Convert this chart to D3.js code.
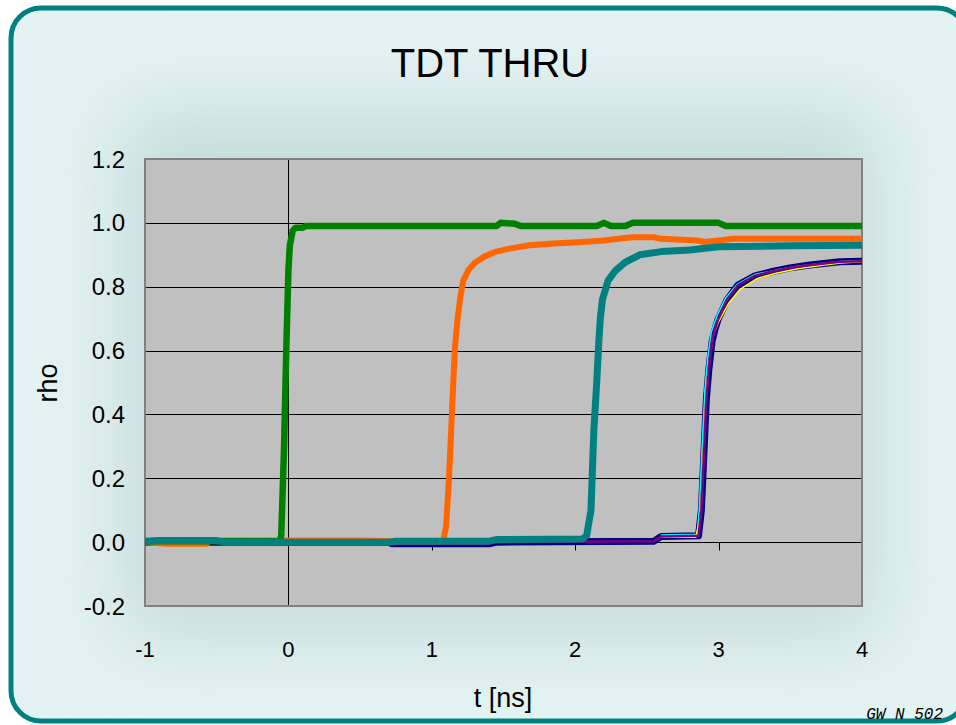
<!DOCTYPE html>
<html>
<head>
<meta charset="utf-8">
<script src="https://cdn.jsdelivr.net/npm/d3@7"></script>
<style>
  html, body { margin: 0; padding: 0; background: #fff; }
  svg { display: block; }
</style>
</head>
<body>
<svg id="chart"></svg>
<script>
// --- data: [t (ns), rho] ---
var xTicks = [-1, 0, 1, 2, 3, 4];
var yTicks = [-0.2, 0.0, 0.2, 0.4, 0.6, 0.8, 1.0, 1.2];
var yTickLabels = ["-0.2", "0.0", "0.2", "0.4", "0.6", "0.8", "1.0", "1.2"];

var navyPts = [[-1,0.0],[0.7,0.0],[0.72,-0.005],[1.4,-0.005],[1.45,0.0],[2.55,0.003],[2.6,0.018],
  [2.86,0.02],[2.88,0.1],[2.9,0.3],[2.915,0.45],[2.932,0.54],[2.955,0.63],[2.974,0.665],[2.995,0.696],
  [3.058,0.758],[3.135,0.805],[3.253,0.834],[3.358,0.846],[3.497,0.859],[3.636,0.868],[3.846,0.878],[4,0.88]];
var cyanPts = [[2.6,0.022],[2.85,0.025],[2.865,0.1],[2.885,0.3],[2.905,0.48],[2.925,0.58],[2.95,0.66],
  [2.99,0.71],[3.05,0.765],[3.13,0.808],[3.25,0.838],[3.4,0.852],[3.55,0.864],[3.7,0.872],[3.85,0.879],[4,0.882]];
var yellowPts = [[2.6,0.015],[2.84,0.015],[2.875,0.08],[2.895,0.3],[2.915,0.48],[2.94,0.58],[2.965,0.65],
  [3.0,0.69],[3.07,0.748],[3.15,0.792],[3.27,0.826],[3.4,0.842],[3.55,0.856],[3.7,0.866],[3.85,0.874],[4,0.878]];
var orangePts = [[-1,0.0],[-0.85,-0.005],[-0.57,-0.005],[-0.55,0.005],[0.5,0.005],[0.7,0.003],[1.08,0.003],
  [1.1,0.05],[1.12,0.2],[1.14,0.4],[1.16,0.6],[1.18,0.7],[1.2,0.77],[1.22,0.82],[1.26,0.855],[1.3,0.875],
  [1.37,0.895],[1.45,0.91],[1.55,0.92],[1.68,0.93],[1.85,0.935],[2.05,0.94],[2.2,0.945],[2.3,0.95],
  [2.4,0.955],[2.55,0.955],[2.6,0.95],[2.85,0.945],[2.9,0.94],[3.0,0.945],[3.1,0.95],[4,0.95]];
var greenPts = [[-1,0.003],[-0.06,0.003],[-0.05,0.02],[-0.03,0.3],[-0.015,0.6],[0.0,0.85],[0.01,0.93],
  [0.03,0.975],[0.05,0.985],[0.1,0.985],[0.12,0.99],[0.2,0.99],[1.45,0.99],[1.48,1.0],[1.58,0.997],
  [1.62,0.99],[2.15,0.99],[2.2,1.0],[2.25,0.99],[2.35,0.99],[2.4,1.0],[3.0,1.0],[3.05,0.99],[4,0.99]];
var tealPts = [[-1,0.003],[-0.9,0.005],[-0.5,0.005],[-0.45,0.0],[0.7,0.0],[0.75,0.003],[1.4,0.003],
  [1.45,0.008],[2.05,0.01],[2.08,0.02],[2.11,0.1],[2.13,0.35],[2.15,0.5],[2.165,0.63],[2.175,0.7],
  [2.19,0.76],[2.23,0.82],[2.28,0.85],[2.35,0.877],[2.45,0.9],[2.6,0.91],[2.8,0.915],[3.0,0.925],
  [3.5,0.928],[4,0.93]];

var series = [
  {pts: navyPts,   color: "#000080", width: 7},
  {pts: cyanPts,   color: "#00FFFF", width: 1.5},
  {pts: yellowPts, color: "#FFFF00", width: 1.5},
  {pts: navyPts,   color: "#800080", width: 2.5},
  {pts: orangePts, color: "#FF6600", width: 6},
  {pts: greenPts,  color: "#008000", width: 6.5},
  {pts: tealPts,   color: "#008080", width: 7}
];

var width = 956, height = 725;
var plot = {left: 145, right: 862, top: 159, bottom: 606};

var svg = d3.select("#chart").attr("width", width).attr("height", height);

var defs = svg.append("defs");
defs.append("filter").attr("id", "soft")
  .attr("x", "-50%").attr("y", "-50%").attr("width", "200%").attr("height", "200%")
  .append("feGaussianBlur").attr("stdDeviation", 40);
defs.append("clipPath").attr("id", "panelClip")
  .append("rect").attr("x", 11).attr("y", 8).attr("width", 956).attr("height", 713).attr("rx", 30);
defs.append("clipPath").attr("id", "plotClip")
  .append("rect").attr("x", plot.left).attr("y", plot.top - 4)
  .attr("width", plot.right - plot.left).attr("height", plot.bottom - plot.top + 8);

// panel background
var panel = svg.append("g").attr("clip-path", "url(#panelClip)");
panel.append("rect").attr("x", 0).attr("y", 0).attr("width", width).attr("height", height).attr("fill", "#E3F2F2");
panel.append("rect").attr("x", 120).attr("y", 110).attr("width", 760).attr("height", 530)
  .attr("fill", "#C6DCDC").attr("filter", "url(#soft)");

svg.append("rect").attr("x", 11).attr("y", 8).attr("width", 956).attr("height", 713).attr("rx", 30)
  .attr("fill", "none").attr("stroke", "#008080").attr("stroke-width", 5);

var x = d3.scaleLinear().domain([-1, 4]).range([plot.left, plot.right]);
var y = d3.scaleLinear().domain([-0.2, 1.2]).range([plot.bottom, plot.top]);

// plot area
svg.append("rect").attr("x", plot.left).attr("y", plot.top)
  .attr("width", plot.right - plot.left).attr("height", plot.bottom - plot.top)
  .attr("fill", "#C0C0C0");

// gridlines
svg.append("g").selectAll("line").data(yTicks.filter(function(d){ return d > -0.1 && d < 1.1; }))
  .enter().append("line")
  .attr("x1", plot.left).attr("x2", plot.right)
  .attr("y1", function(d){ return Math.round(y(d)) + 0.5; })
  .attr("y2", function(d){ return Math.round(y(d)) + 0.5; })
  .attr("stroke", "#000").attr("stroke-width", 1);

// y axis at t = 0
var x0 = Math.round(x(0)) + 0.5;
svg.append("line").attr("x1", x0).attr("x2", x0).attr("y1", plot.top).attr("y2", plot.bottom)
  .attr("stroke", "#000");
svg.append("g").selectAll("line").data(yTicks).enter().append("line")
  .attr("x1", x0 - 6).attr("x2", x0)
  .attr("y1", function(d){ return Math.round(y(d)) + 0.5; })
  .attr("y2", function(d){ return Math.round(y(d)) + 0.5; })
  .attr("stroke", "#000");

// x axis ticks below rho = 0
var yz = Math.round(y(0)) + 0.5;
svg.append("g").selectAll("line").data(xTicks).enter().append("line")
  .attr("x1", function(d){ return Math.round(x(d)) + 0.5; })
  .attr("x2", function(d){ return Math.round(x(d)) + 0.5; })
  .attr("y1", yz).attr("y2", yz + 8)
  .attr("stroke", "#000");

// plot border
svg.append("rect").attr("x", plot.left).attr("y", plot.top)
  .attr("width", plot.right - plot.left).attr("height", plot.bottom - plot.top)
  .attr("fill", "none").attr("stroke", "#808080").attr("stroke-width", 2);

// curves
var line = d3.line().x(function(d){ return x(d[0]); }).y(function(d){ return y(d[1]); });
svg.append("g").attr("clip-path", "url(#plotClip)").selectAll("path").data(series).enter().append("path")
  .attr("d", function(d){ return line(d.pts); })
  .attr("fill", "none")
  .attr("stroke", function(d){ return d.color; })
  .attr("stroke-width", function(d){ return d.width; })
  .attr("stroke-linejoin", "round").attr("stroke-linecap", "round");

// tick labels
var font = "'Liberation Sans', Arial, sans-serif";
svg.append("g").selectAll("text").data(yTicks).enter().append("text")
  .attr("x", 125).attr("y", function(d){ return y(d); }).attr("dy", "0.36em")
  .attr("text-anchor", "end").attr("font-family", font).attr("font-size", 24)
  .text(function(d, i){ return yTickLabels[i]; });
svg.append("g").selectAll("text").data(xTicks).enter().append("text")
  .attr("x", function(d){ return x(d); }).attr("y", 657)
  .attr("text-anchor", "middle").attr("font-family", font).attr("font-size", 22)
  .text(function(d){ return d; });

// titles
svg.append("text").attr("x", 490).attr("y", 77).attr("text-anchor", "middle")
  .attr("font-family", font).attr("font-size", 40).text("TDT THRU");
svg.append("text").attr("transform", "translate(57,383) rotate(-90)").attr("text-anchor", "middle")
  .attr("font-family", font).attr("font-size", 27).text("rho");
svg.append("text").attr("x", 503).attr("y", 707).attr("text-anchor", "middle")
  .attr("font-family", font).attr("font-size", 27).text("t [ns]");
svg.append("text").attr("x", 943).attr("y", 719).attr("text-anchor", "end")
  .attr("font-family", "'Liberation Mono', 'Courier New', monospace").attr("font-style", "italic")
  .attr("font-size", 16).text("GW N 502");
</script>
</body>
</html>
